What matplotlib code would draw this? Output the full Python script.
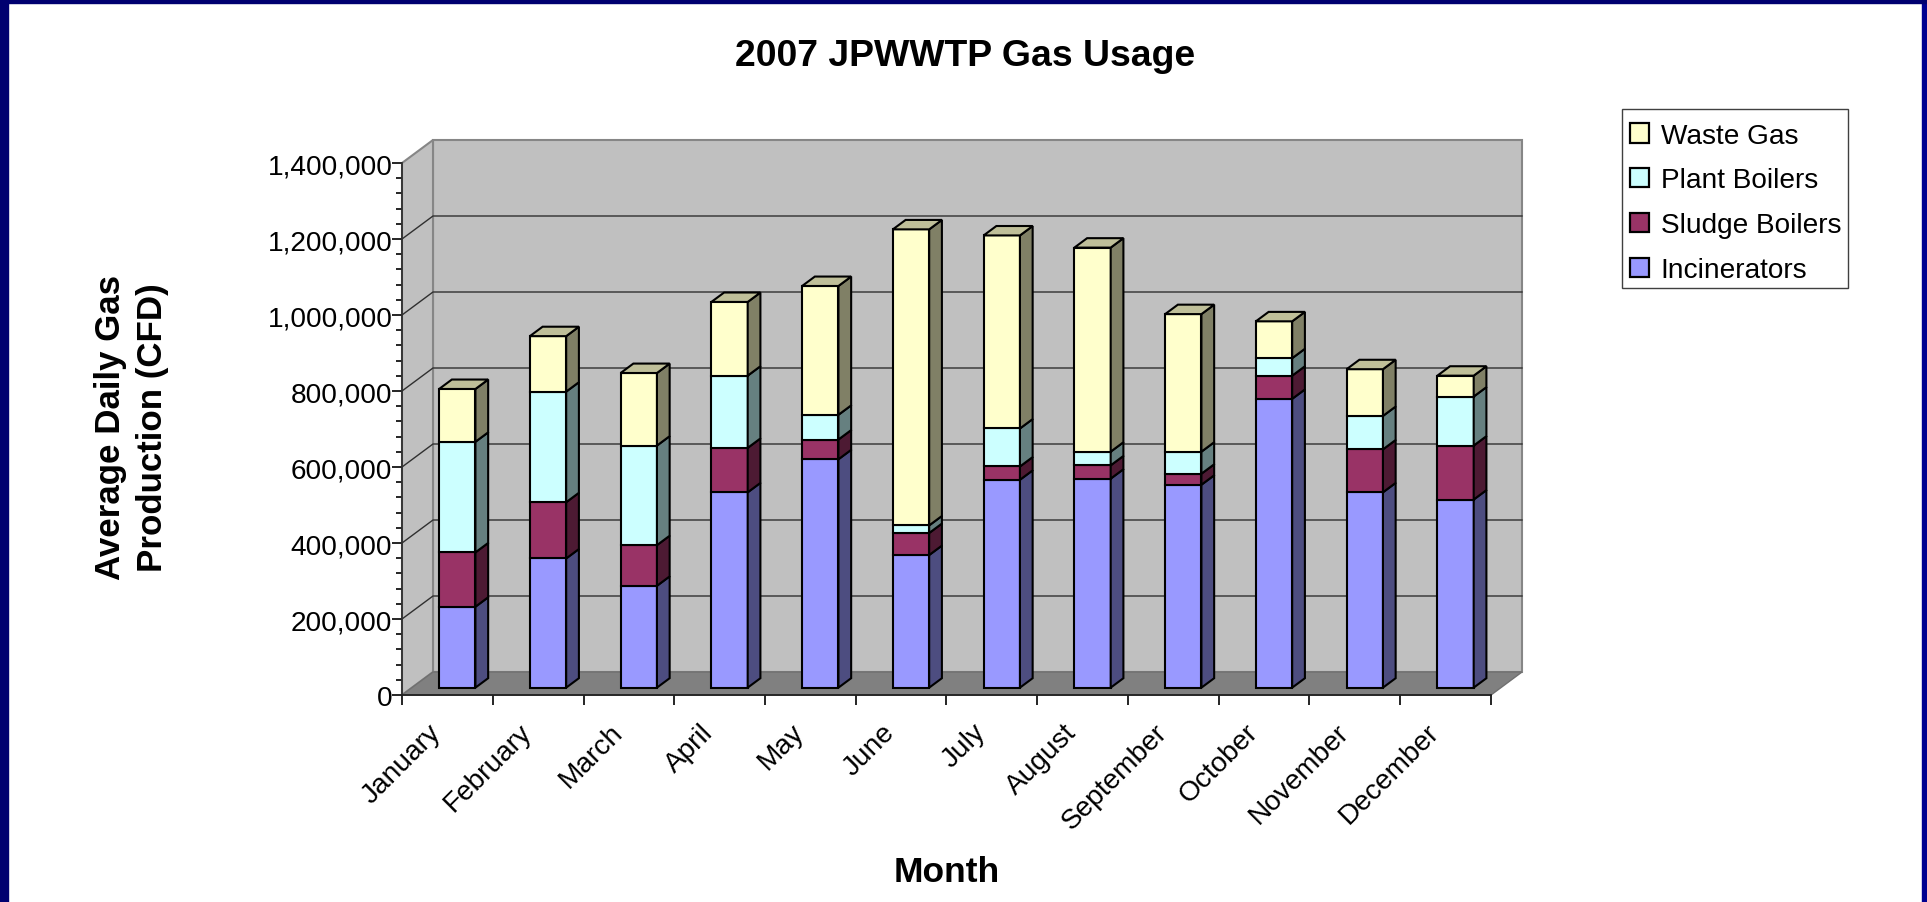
import matplotlib
matplotlib.use("Agg")
import matplotlib.pyplot as plt
from matplotlib.patches import Patch, Polygon, Rectangle
from matplotlib.transforms import Affine2D, IdentityTransform
import numpy as np

plt.rcParams['font.family'] = ['Liberation Sans', 'DejaVu Sans']

months = ["January", "February", "March", "April", "May", "June", "July",
          "August", "September", "October", "November", "December"]

# daily gas use per month, CFD
incinerators = [213000, 340000, 268000, 514000, 601000, 349000,
                547000, 550000, 534000, 760000, 514000, 495000]
sludge_boilers = [143000, 148000, 107000, 117000, 52000, 58000,
                  35000, 35000, 29000, 61000, 113000, 142000]
plant_boilers = [291000, 291000, 262000, 190000, 65000, 20000,
                 100000, 36000, 58000, 46000, 88000, 129000]
waste_gas = [139000, 146000, 191000, 194000, 339000, 779000,
             508000, 537000, 362000, 97000, 123000, 55000]

series_names = ["Incinerators", "Sludge Boilers", "Plant Boilers", "Waste Gas"]
series_values = [incinerators, sludge_boilers, plant_boilers, waste_gas]
front_colors = ["#9999FF", "#993366", "#CCFFFF", "#FFFFCC"]
side_colors = ["#4D4D80", "#4D1A33", "#668080", "#808066"]
top_color = "#BFBF99"

y_ticks = list(range(0, 1400001, 200000))

# chart box depth in pixels, and where the bars sit inside that depth
DEPTH_X = 31
DEPTH_Y = 23
BAR_NEAR = 0.32
BAR_FAR = 0.73
BAR_WIDTH = 0.40

WIDTH, HEIGHT = 1927, 903

fig = plt.figure(figsize=(WIDTH / 100, HEIGHT / 100), dpi=100, facecolor="white")
ax = fig.add_axes([402 / WIDTH, (HEIGHT - 696) / HEIGHT, 1089 / WIDTH, 532 / HEIGHT])
ax.patch.set_visible(False)
ax.set_xlim(0, 12)
ax.set_ylim(0, 1400000)


def project(x, y, f):
    # data point pushed back by fraction f of the box depth, in pixels
    px, py = ax.transData.transform((x, y))
    return (px + DEPTH_X * f, py + DEPTH_Y * f)


def face(points, color, edge="black", lw=1.5, zorder=1):
    poly = Polygon(points, closed=True, facecolor=color, edgecolor=edge, linewidth=lw,
                   transform=IdentityTransform(), clip_on=False, zorder=zorder,
                   joinstyle="miter")
    ax.add_patch(poly)


# walls and floor
wall_edge = "#868686"
face([project(0, 0, 1), project(12, 0, 1), project(12, 1400000, 1), project(0, 1400000, 1)],
     "#C0C0C0", wall_edge, 1.5)
face([project(0, 0, 0), project(0, 0, 1), project(0, 1400000, 1), project(0, 1400000, 0)],
     "#C0C0C0", wall_edge, 1.5)
face([project(0, 0, 0), project(12, 0, 0), project(12, 0, 1), project(0, 0, 1)],
     "#808080", "#707070", 1.0)

# gridlines run along the side wall and across the back
for v in y_ticks[1:-1]:
    pts = np.array([project(0, v, 0), project(0, v, 1), project(12, v, 1)])
    ax.plot(pts[:, 0], pts[:, 1], color="#303030", lw=1.0, transform=IdentityTransform(),
            clip_on=False, zorder=1)

# stacked bars, left to right and bottom to top
near = ax.transData + Affine2D().translate(DEPTH_X * BAR_NEAR, DEPTH_Y * BAR_NEAR)
centers = np.arange(12) + 0.5
bottoms = np.zeros(12)
for s in range(4):
    vals = np.array(series_values[s], dtype=float)
    ax.bar(centers, vals, BAR_WIDTH, bottom=bottoms, color=front_colors[s], edgecolor="black",
           linewidth=1.5, transform=near, clip_on=False, zorder=1.5)
    for i in range(12):
        right = centers[i] + BAR_WIDTH / 2
        left = centers[i] - BAR_WIDTH / 2
        y0 = bottoms[i]
        y1 = bottoms[i] + vals[i]
        face([project(right, y0, BAR_NEAR), project(right, y0, BAR_FAR),
              project(right, y1, BAR_FAR), project(right, y1, BAR_NEAR)],
             side_colors[s], zorder=1.5)
        if s == 3:
            face([project(left, y1, BAR_NEAR), project(right, y1, BAR_NEAR),
                  project(right, y1, BAR_FAR), project(left, y1, BAR_FAR)],
                 top_color, zorder=1.5)
    bottoms = bottoms + vals

# axes
for name in ["top", "right"]:
    ax.spines[name].set_visible(False)
ax.spines["left"].set_color("#303030")
ax.spines["bottom"].set_color("#202020")
ax.spines["left"].set_linewidth(1.3)
ax.spines["bottom"].set_linewidth(1.3)

ax.set_yticks(y_ticks)
ax.set_yticklabels([f"{v:,}" for v in y_ticks], fontsize=20.2)
ax.set_yticks(np.arange(0, 1400001, 40000), minor=True)
ax.tick_params(axis="y", which="major", length=7, width=1.2, pad=0)
ax.tick_params(axis="y", which="minor", length=4.5, width=1.2)

ax.set_xticks(range(13))
ax.set_xticklabels([])
ax.tick_params(axis="x", which="major", length=7.5, width=1.2)
# month names hang a little left of the category centres
ax.set_xticks(centers - 0.215, months, minor=True)
ax.tick_params(axis="x", which="minor", length=0, pad=17, labelsize=20.2)
for lab in ax.get_xticklabels(minor=True):
    lab.set_rotation(45)
    lab.set_ha("right")
    lab.set_rotation_mode("anchor")

fig.text(965 / WIDTH, 1 - 56.5 / HEIGHT, "2007 JPWWTP Gas Usage", fontsize=26.9, fontweight="bold",
         ha="center", va="center")
fig.text(946.5 / WIDTH, 1 - 872.5 / HEIGHT, "Month", fontsize=25.5, fontweight="bold",
         ha="center", va="center")
fig.text(131.5 / WIDTH, 1 - 428 / HEIGHT, "Average Daily Gas\nProduction (CFD)", fontsize=25.1,
         fontweight="bold", rotation=90, ha="center", va="center", linespacing=1.33,
         multialignment="center")

handles = [Patch(facecolor=front_colors[s], edgecolor="black", linewidth=1.6) for s in [3, 2, 1, 0]]
labels = [series_names[s] for s in [3, 2, 1, 0]]
fig.add_artist(Rectangle((1622 / WIDTH, 1 - 289 / HEIGHT), 226 / WIDTH, 179 / HEIGHT,
                         transform=fig.transFigure, facecolor="white", edgecolor="#404040", lw=1.0))
fig.legend(handles, labels, loc="upper left", bbox_to_anchor=(1630 / WIDTH, 1 - 123.7 / HEIGHT),
           fontsize=20.2, frameon=False, handlelength=0.68, handleheight=0.68, handletextpad=0.42,
           labelspacing=0.67, borderpad=0, borderaxespad=0)

# navy slide border on three sides
border = "#000070"
fig.add_artist(Rectangle((0, 0), 7.5 / WIDTH, 1, transform=fig.transFigure, color=border))
fig.add_artist(Rectangle((1922 / WIDTH, 0), 5 / WIDTH, 1, transform=fig.transFigure, color="#000090"))
fig.add_artist(Rectangle((0, 1 - 3.5 / HEIGHT), 1, 3.5 / HEIGHT, transform=fig.transFigure, color=border))

fig.savefig("out.png", dpi=100)
